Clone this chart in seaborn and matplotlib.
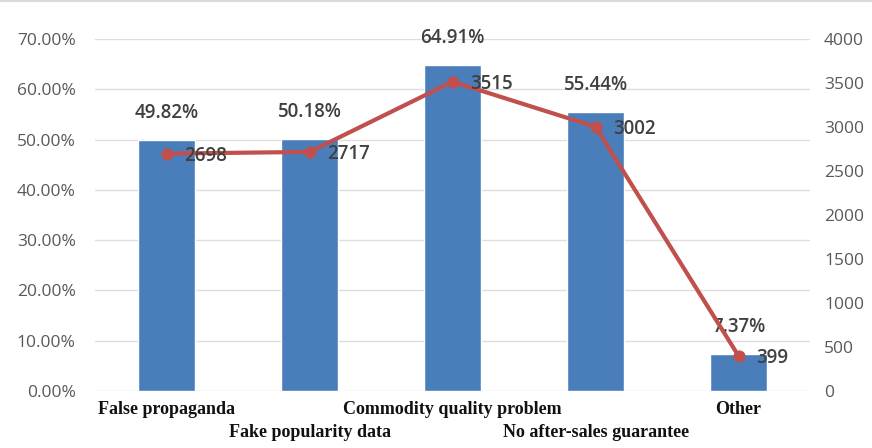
import numpy as np
import pandas as pd
import matplotlib
matplotlib.use("Agg")
import matplotlib.pyplot as plt
import seaborn as sns

categories = ["False propaganda", "Fake popularity data", "Commodity quality problem",
              "No after-sales guarantee", "Other"]
percent = [49.82, 50.18, 64.91, 55.44, 7.37]
counts = [2698, 2717, 3515, 3002, 399]
left_ticks = [0, 10, 20, 30, 40, 50, 60, 70]
right_ticks = [0, 500, 1000, 1500, 2000, 2500, 3000, 3500, 4000]

sns.set_theme(style="white")
plt.rcParams['font.family'] = ['Open Sans', 'DejaVu Sans']

bar_color = "#4a7ebb"
line_color = "#c0504d"
tick_color = "#595959"
grid_color = "#dedede"

fig = plt.figure(figsize=(8.72, 4.48), dpi=100)
ax = fig.add_axes([0.109, 0.127, 0.820, 0.786])

df = pd.DataFrame({"cat": categories, "pct": percent, "cnt": counts})
sns.barplot(data=df, x="cat", y="pct", ax=ax, color=bar_color, width=0.4,
            saturation=1, zorder=2)
ax.set_xlim(-0.5, len(categories) - 0.5)
ax.set_ylim(0, 70)
ax.set_yticks(left_ticks)
ax.set_yticklabels([f"{t:.2f}%" for t in left_ticks], color=tick_color, fontsize=12.5)
ax.yaxis.grid(True, color=grid_color, linewidth=1, zorder=0)
ax.set_axisbelow(True)
for s in ax.spines.values():
    s.set_visible(False)
ax.tick_params(axis="y", length=0, pad=14)
ax.tick_params(axis="x", length=0)
ax.set_xlabel("")
ax.set_ylabel("")
ax.set_xticks(range(len(categories)))
ax.set_xticklabels([])
for i, c in enumerate(categories):
    off = -10 if i % 2 == 0 else -33
    ax.annotate(c, (i, 0), xytext=(0, off), textcoords="offset pixels",
                ha="center", va="top", fontsize=13, fontweight="bold",
                family=["Liberation Serif"], color="#111111", annotation_clip=False)

for i, p in enumerate(percent):
    ax.annotate(f"{p:.2f}%", (i, p), xytext=(0, 17), textcoords="offset pixels",
                ha="center", va="bottom", fontsize=13.5, fontweight="semibold",
                color="#404040", zorder=5)

ax2 = ax.twinx()
sns.lineplot(x=np.arange(len(counts)), y=counts, ax=ax2, color=line_color,
             linewidth=3, marker="o", markersize=8, markeredgecolor=line_color, zorder=3)
ax2.set_ylim(0, 4000)
ax2.set_yticks(right_ticks)
ax2.set_yticklabels([str(t) for t in right_ticks], color=tick_color, fontsize=12.5)
ax2.tick_params(axis="y", length=0, pad=10)
for s in ax2.spines.values():
    s.set_visible(False)
ax2.set_ylabel("")
for i, c in enumerate(counts):
    ax2.annotate(str(c), (i, c), xytext=(18, -2), textcoords="offset pixels",
                 ha="left", va="center", fontsize=13.5, fontweight="semibold",
                 color="#404040", zorder=6)

fig.add_artist(plt.Line2D([0, 1], [0.997, 0.997], color="#d9d9d9", linewidth=1.5))
fig.savefig("out.png", dpi=100)
